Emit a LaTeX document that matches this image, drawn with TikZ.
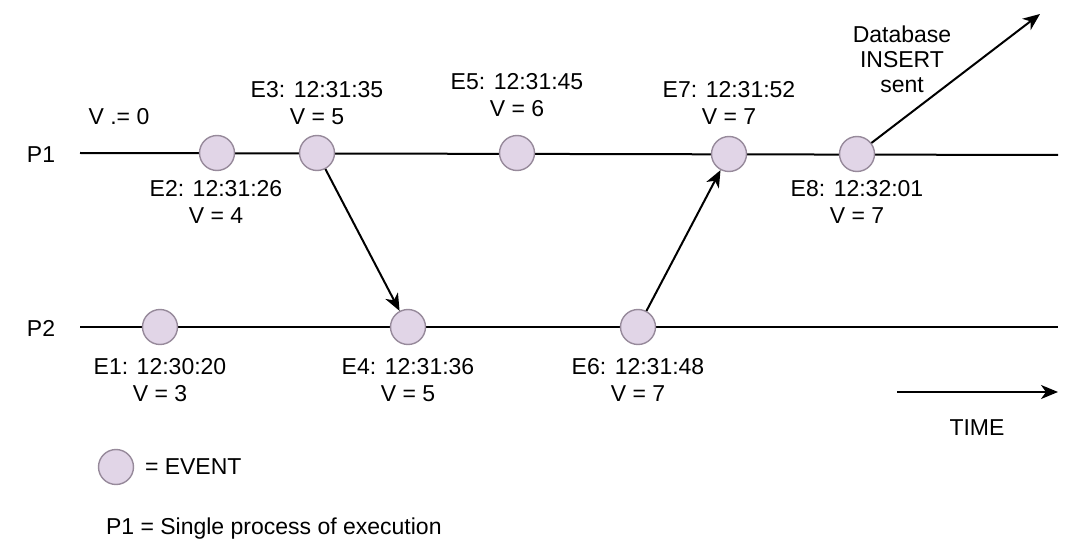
\documentclass[tikz,border=0pt]{standalone}
\usepackage{fontspec}
\setmainfont{Liberation Sans}
\usetikzlibrary{arrows.meta}
\definecolor{evfill}{HTML}{E1D5E7}
\definecolor{evdraw}{HTML}{978A9B}
\begin{document}
\begin{tikzpicture}[x=1pt,y=-1pt,->,>={Stealth[length=17pt,width=14pt,inset=5pt]},line width=2pt,
		event node/.style={circle,draw=evdraw,fill=evfill,line width=1.4pt,minimum size=35pt,inner sep=0pt},
		text node/.style={align=center,inner sep=0pt,font=\fontsize{23}{27}\selectfont}]
		\useasboundingbox (0,0) rectangle (1074,548);
		% 时间线
		\coordinate (p1s) at (80,153);
		\coordinate (p1e) at (1058,155);
		\coordinate (p2s) at (80,327);
		\coordinate (p2e) at (1058,327);
		\draw[-] (p1s) -- (p1e);
		\draw[-] (p2s) -- (p2e);
		\node[text node] (p1) at (41,155) {P1};
		\node[text node] (p2) at (41,328) {P2};
		\node[text node] (v0) at (119,117) {V .= 0};
		\node[event node] (e1) at (160,327) {};
		\node[event node] (e2) at (217,153) {};
		\node[event node] (e3) at (317,153) {};
		\node[event node] (e4) at (408,327) {};
		\node[event node] (e5) at (517,153) {};
		\node[event node] (e6) at (638,327) {};
		\node[event node] (e7) at (729,154) {};
		\node[event node] (e8) at (857,154) {};
		\node[text node] (l1) at (160,380) {E1: 12:30:20\\V = 3};
		\node[text node] (l2) at (216,202) {E2: 12:31:26\\V = 4};
		\node[text node] (l3) at (317,103) {E3: 12:31:35\\V = 5};
		\node[text node] (l4) at (408,380) {E4: 12:31:36\\V = 5};
		\node[text node] (l5) at (517,95) {E5: 12:31:45\\V = 6};
		\node[text node] (l6) at (638,380) {E6: 12:31:48\\V = 7};
		\node[text node] (l7) at (729,103) {E7: 12:31:52\\V = 7};
		\node[text node] (l8) at (857,202) {E8: 12:32:01\\V = 7};
		\node[text node,font=\fontsize{23}{25}\selectfont] (db) at (902,59) {Database\\INSERT\\sent};
		\coordinate (out) at (1040,14);
		\coordinate (ts) at (897,392);
		\coordinate (te) at (1058,392);
		\node[text node] (time) at (977,428) {TIME};
		\node[event node] (key) at (116,467) {};
		\node[text node,anchor=west] (keytext) at (144,467) {= EVENT};
		\node[text node,anchor=west] (p1text) at (105,529) {P1 = Single process of execution};
		\path[->]
		(e3) edge (e4)
		(e6) edge (e7)
		(e8) edge (out)
		(ts) edge (te);
		\end{tikzpicture}
\end{document}
